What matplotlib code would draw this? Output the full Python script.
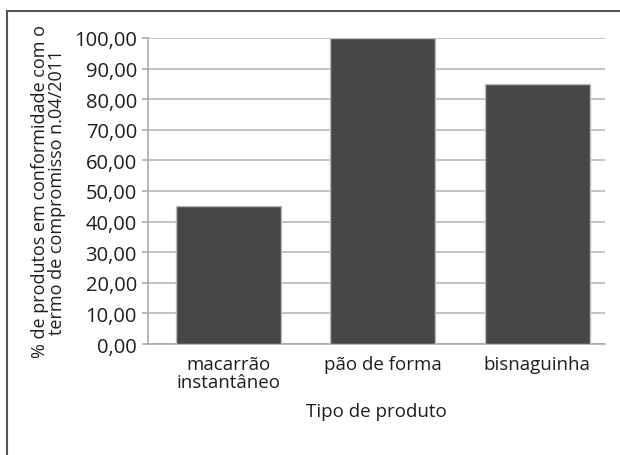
import matplotlib
matplotlib.use("Agg")
import matplotlib.pyplot as plt
from matplotlib.patches import Rectangle

produtos = ["macarrão\ninstantâneo", "pão de forma", "bisnaguinha"]
conformidade = [45.0, 100.0, 85.0]
yticks = [0, 10, 20, 30, 40, 50, 60, 70, 80, 90, 100]

plt.rcParams["font.family"] = ["Open Sans", "DejaVu Sans"]

fig = plt.figure(figsize=(6.2, 4.56), dpi=100)
ax = fig.add_axes([0.2387, 0.2434, 0.7371, 0.6711])

# moldura em volta do gráfico
fig.patches.append(Rectangle((7 / 620, -0.05), 1.1, 1 - 12 / 456 + 0.05,
                             transform=fig.transFigure, fill=False,
                             edgecolor="#555555", linewidth=1.5))

x = range(len(produtos))
ax.bar(x, conformidade, width=0.68, color="#474747",
       edgecolor="#bdbdbd", linewidth=1.0, zorder=3)

ax.set_ylim(0, 100)
ax.set_xlim(-0.52, 2.44)
ax.set_yticks(yticks)
ax.set_yticklabels(["%d,00" % v for v in yticks], fontsize=14.5, color="#1e1e1e")
ax.set_xticks(list(x))
ax.set_xticklabels(produtos, fontsize=13.5, color="#1e1e1e", linespacing=1.0)
ax.tick_params(axis="y", length=4, color="#aaaaaa", width=1.2, pad=4)
ax.tick_params(axis="x", length=0, pad=8)

ax.yaxis.grid(True, color="#c4c4c4", linewidth=1.4, zorder=0)
for s in ["top", "right"]:
    ax.spines[s].set_visible(False)
ax.spines["left"].set_color("#aaaaaa")
ax.spines["bottom"].set_color("#aaaaaa")
ax.spines["left"].set_linewidth(1.2)
ax.spines["bottom"].set_linewidth(1.2)

ax.set_ylabel("% de produtos em conformidade com o\ntermo de compromisso n.04/2011",
              fontsize=13, color="#1e1e1e", linespacing=0.9, labelpad=6)
ax.set_xlabel("Tipo de produto", fontsize=13.5, color="#1e1e1e", labelpad=8)

fig.savefig("out.png", dpi=100)
